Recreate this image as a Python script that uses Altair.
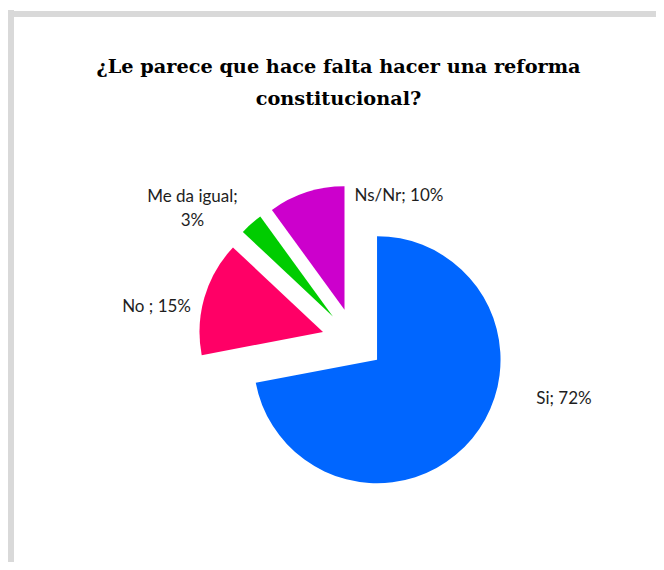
import altair as alt
import pandas as pd

# ---- data ----
categories = ["Si", "No ", "Me da igual", "Ns/Nr"]
values = [72, 15, 3, 10]
labels = ["Si; 72%", "No ; 15%", "Me da igual;\n3%", "Ns/Nr; 10%"]
colors = ["#0066FF", "#FF0066", "#00CC00", "#CC00CC"]
title_lines = ["¿Le parece que hace falta hacer una reforma", "constitucional?"]

# ---- styling (explosion in px, label placement: angle adjust in deg, radius in px) ----
explode = {"Si": 29, "No ": 33, "Me da igual": 33, "Ns/Nr": 33}
label_angle_adj = {"Si": -22.9, "No ": -7.8, "Me da igual": -8.0, "Ns/Nr": 35.5}
label_radius = {"Si": 218.5, "No ": 200.3, "Me da igual": 213.7, "Ns/Nr": 147.0}

W, H = 648, 434
PAD_TOP = 120
CX, CY = 346.7, 213.2  # pie centre inside the view
R = 123.5

df = pd.DataFrame({"cat": categories, "value": values, "label": labels,
                   "order": list(range(len(categories)))})
df["explode"] = df["cat"].map(explode)
df["ladj"] = df["cat"].map(label_angle_adj)
df["lrad"] = df["cat"].map(label_radius)

base = (
    alt.Chart(df)
    .transform_joinaggregate(total="sum(value)")
    .transform_window(cum="sum(value)", sort=[alt.SortField("order")], frame=[None, 0])
    .transform_calculate(
        t0="2*PI*(datum.cum - datum.value)/datum.total",
        t1="2*PI*datum.cum/datum.total",
    )
    .transform_calculate(mid="(datum.t0 + datum.t1)/2")
    .transform_calculate(
        px="datum.explode*sin(datum.mid)",
        py="-datum.explode*cos(datum.mid)",
        lx="datum.lrad*sin(datum.mid + datum.ladj*PI/180)",
        ly="-datum.lrad*cos(datum.mid + datum.ladj*PI/180)",
    )
)

xs = alt.Scale(domain=[-CX, W - CX], range=[0, W])
ys = alt.Scale(domain=[-CY, H - CY], range=[0, H])

arcs = base.mark_arc(outerRadius=R).encode(
    x=alt.X("px:Q", scale=xs, axis=None),
    y=alt.Y("py:Q", scale=ys, axis=None),
    theta=alt.Theta("t0:Q", scale=None),
    theta2=alt.Theta2("t1:Q"),
    color=alt.Color("cat:N", scale=alt.Scale(domain=categories, range=colors), legend=None),
)

texts = base.mark_text(font="Lato", fontSize=17, align="center", baseline="alphabetic",
                       lineBreak="\n", lineHeight=24, color="#1e1e1e").encode(
    x=alt.X("lx:Q", scale=xs, axis=None),
    y=alt.Y("ly:Q", scale=ys, axis=None),
    text="label:N",
)

# chart title (two lines), drawn in the top padding area
title_df = pd.DataFrame({"t": ["\n".join(title_lines)]})
title = alt.Chart(title_df).mark_text(
    font="DejaVu Serif", fontSize=19.3, fontWeight="bold", color="#000000",
    align="center", baseline="alphabetic", lineBreak="\n", lineHeight=32,
).encode(x=alt.value(330.5), y=alt.value(65 - PAD_TOP), text="t:N")

frame_df = pd.DataFrame({"k": [0]})
left_border = alt.Chart(frame_df).mark_rule(color="#D9D9D9", strokeWidth=6).encode(
    x=alt.value(3), y=alt.value(2 - PAD_TOP), y2=alt.value(H)
)
top_border = alt.Chart(frame_df).mark_rule(color="#D9D9D9", strokeWidth=6).encode(
    x=alt.value(0), x2=alt.value(W), y=alt.value(6 - PAD_TOP)
)

chart = (
    alt.layer(left_border, top_border, title, arcs, texts)
    .properties(
        width=W,
        height=H,
        padding={"left": 0, "top": PAD_TOP, "right": 0, "bottom": 0},
        autosize=alt.AutoSizeParams(type="none"),
    )
    .configure_view(stroke=None)
)

chart.save("out.html", embed_options={"renderer": "svg", "actions": False})
